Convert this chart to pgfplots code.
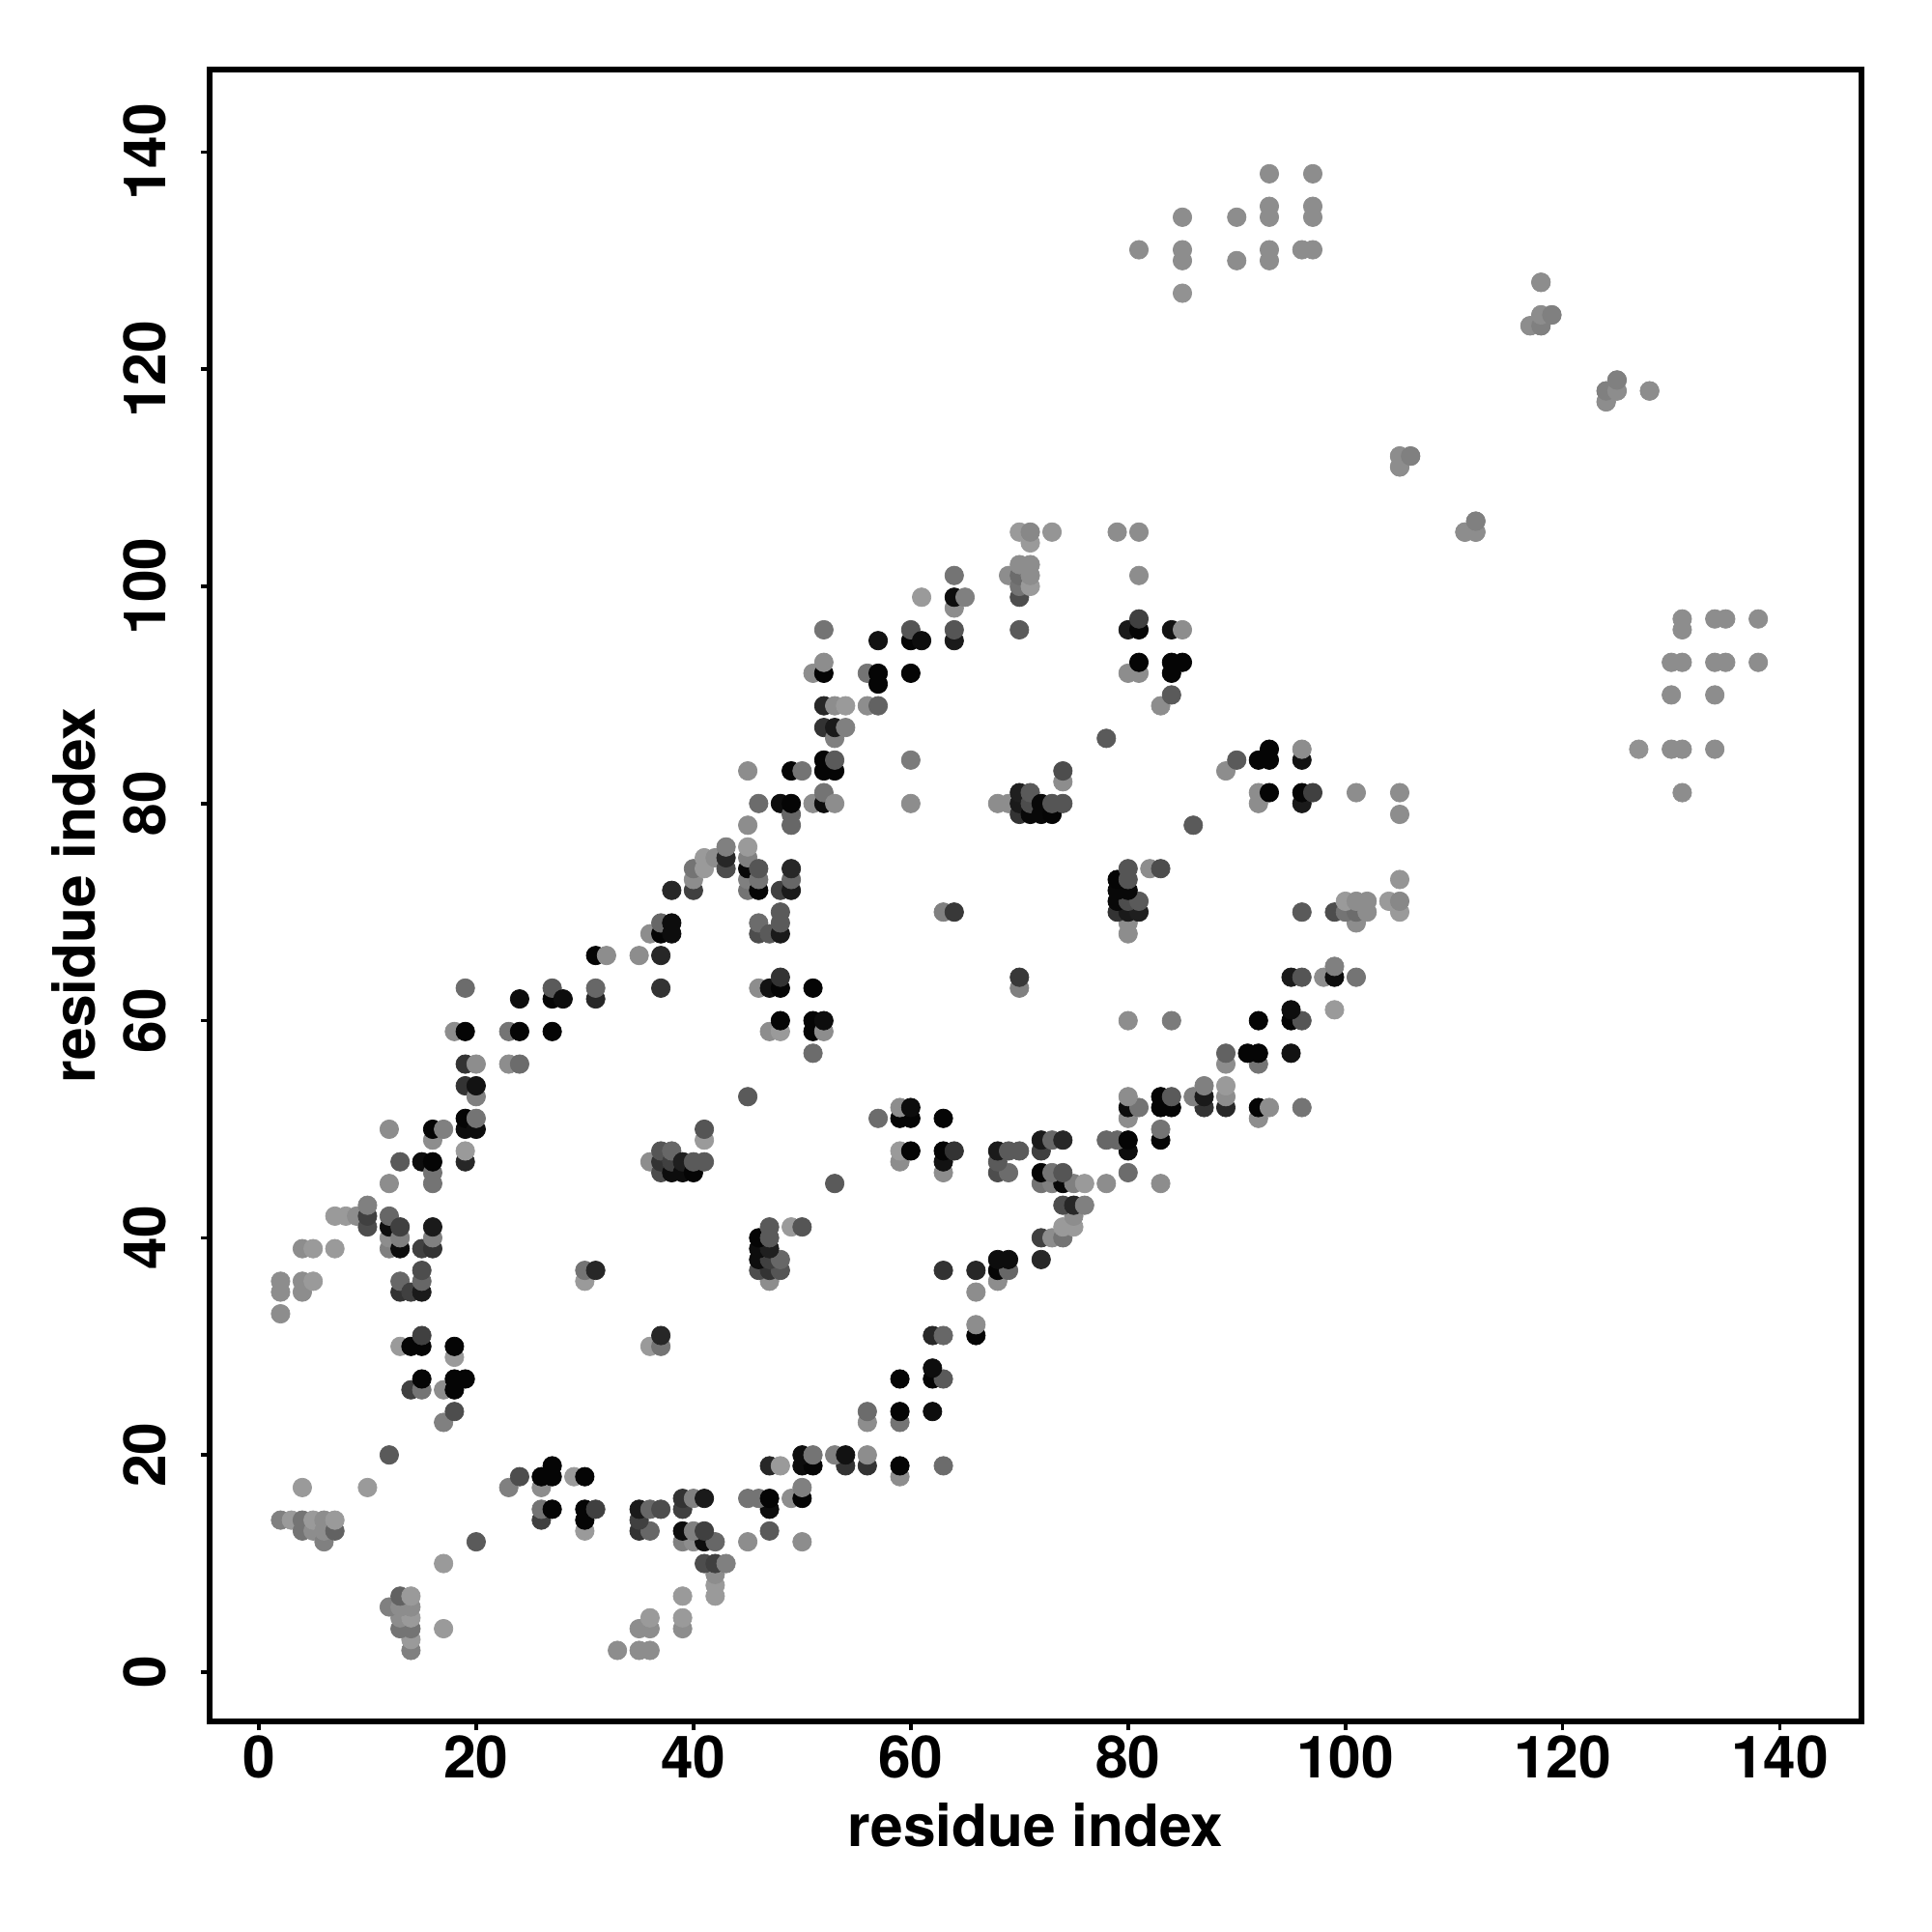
\documentclass[border=0pt]{standalone}
\usepackage{pgfplots}
\pgfplotsset{compat=1.18}
\usepackage{pgfplotstable}
\usepackage{fontspec}
\setmainfont{TeX Gyre Heros}
\pgfplotstableread{
i j g
2 14 .5
2 33 .55
2 35 .55
2 36 .55
3 14 .6
4 13 .45
4 14 .45
4 17 .6
4 35 .55
4 36 .55
4 39 .55
5 13 .55
5 14 .6
5 36 .6
5 39 .6
6 12 .5
6 13 .55
6 14 .55
7 13 .38
7 14 .6
7 39 .6
7 42 .6
8 42 .6
9 42 .55
10 17 .6
10 41 .3
10 42 .25
10 43 .5
12 20 .35
12 39 .5
12 40 .55
12 41 .05
12 42 .4
12 45 .55
12 50 .55
13 30 .6
13 35 .2
13 36 .4
13 39 .05
13 40 .5
13 41 .25
13 47 .35
14 26 .25
14 30 .02
14 35 .25
15 26 .45
15 27 .02
15 30 .02
15 31 .25
15 35 .1
15 36 .4
15 37 .3
15 39 .25
15 47 .05
16 39 .2
16 40 .5
16 41 .1
16 45 .45
16 46 .45
16 47 .02
16 49 .55
16 50 .02
17 23 .5
17 26 .55
17 50 .5
18 24 .3
18 26 .02
18 27 .02
18 29 .6
18 30 .02
18 59 .55
19 27 .02
19 47 .15
19 48 .6
19 50 .05
19 51 .02
19 54 .2
19 56 .2
19 59 .02
19 63 .42
20 50 .05
20 51 .45
20 53 .5
20 54 .07
20 56 .55
23 56 .55
23 59 .45
24 56 .42
24 59 .02
24 62 .05
27 59 .02
27 62 .02
27 63 .35
28 62 .05
30 36 .6
30 37 .45
31 37 .15
31 62 .15
31 63 .4
31 66 .02
32 66 .55
35 66 .55
36 47 .55
36 68 .55
37 46 .3
37 47 .2
37 48 .33
37 63 .2
37 66 .15
37 68 .02
37 69 .4
38 46 .05
38 47 .25
38 48 .4
38 68 .05
38 69 .05
38 72 .15
39 46 .05
39 47 .12
40 46 .02
40 47 .35
40 72 .25
40 73 .55
40 74 .45
41 47 .35
41 49 .6
41 50 .33
41 74 .6
41 75 .6
42 75 .55
43 74 .3
43 75 .15
43 76 .5
45 53 .35
45 72 .45
45 73 .5
45 74 .03
45 75 .5
45 76 .6
45 78 .55
45 83 .55
46 63 .55
46 68 .3
46 69 .42
46 72 .02
46 73 .45
46 74 .33
46 80 .42
47 59 .55
47 63 .07
47 68 .35
48 59 .6
48 60 .02
48 63 .02
48 64 .2
48 68 .1
48 69 .35
48 70 .35
48 72 .25
48 80 .05
49 72 .1
49 73 .4
49 74 .15
49 78 .4
49 79 .4
49 80 .02
49 83 .02
50 83 .45
51 57 .42
51 59 .02
51 60 .02
51 63 .02
51 80 .55
51 92 .55
52 59 .55
52 60 .05
52 80 .05
52 81 .45
52 83 .02
52 84 .02
52 87 .2
52 89 .15
52 92 .02
52 93 .55
52 96 .45
53 80 .55
53 83 .02
53 84 .35
53 86 .5
53 87 .1
53 89 .55
54 87 .5
54 89 .6
56 89 .55
56 92 .45
57 89 .38
57 91 .02
57 92 .02
57 95 .07
60 80 .55
60 84 .48
60 92 .02
60 95 .02
60 96 .33
61 95 .05
61 99 .6
63 70 .5
64 70 .22
64 95 .1
64 96 .33
64 98 .55
64 99 .05
64 101 .45
65 99 .5
68 80 .55
69 80 .55
69 101 .55
70 79 .2
70 80 .1
70 81 .12
70 96 .35
70 99 .3
70 100 .45
70 101 .42
70 102 .55
70 105 .6
71 79 .03
71 80 .3
71 81 .35
71 100 .6
71 101 .55
71 102 .55
71 104 .6
71 105 .53
72 79 .03
72 80 .03
73 79 .02
73 80 .33
73 105 .58
74 80 .33
74 82 .55
74 83 .3
78 86 .35
79 105 .55
80 92 .55
80 96 .1
81 92 .55
81 93 .02
81 96 .02
81 97 .25
81 101 .55
81 105 .55
83 89 .55
84 90 .35
84 92 .02
84 93 .02
84 96 .07
85 93 .02
85 96 .55
85 127 .57
85 130 .55
85 131 .55
85 134 .55
90 130 .55
90 134 .55
81 131 .55
93 130 .55
93 131 .55
93 134 .55
93 135 .55
93 138 .55
96 131 .55
97 131 .55
97 134 .55
97 135 .55
97 138 .55
105 111 .55
105 112 .55
106 112 .5
111 105 .55
112 105 .55
112 106 .5
117 124 .55
118 124 .5
118 125 .55
119 125 .5
118 128 .55
124 117 .55
124 118 .5
125 118 .55
125 119 .5
128 118 .55
}\contacts
\begin{document}
\begin{tikzpicture}
\path[use as bounding box] (-2.17,-2.18) rectangle (17.83,17.82);
\begin{axis}[
  scale only axis, width=17.1cm, height=17.1cm, at={(0,0)}, anchor=south west,
  xmin=-4.53, xmax=147.5, ymin=-4.54, ymax=147.6,
  xtick={0,20,...,140}, ytick={0,20,...,140},
  axis line style={line width=0.06cm}, tick style={black,line width=0.036cm},
  axis x line*=bottom, axis y line*=left,
  tick align=outside, major tick length=0.09cm,
  /pgf/number format/assume math mode=true,
  tick label style={font=\fontsize{17.2}{20}\selectfont\bfseries},
  yticklabel style={rotate=90, anchor=south, yshift=6.8pt},
  xticklabel style={yshift=2pt},
  xlabel={residue index}, ylabel={residue index},
  label style={font=\fontsize{17.2}{20}\selectfont\bfseries},
  xlabel style={at={(axis description cs:0.5,-0.042)},anchor=north},
  ylabel style={at={(axis description cs:-0.0615,0.5)},anchor=south},
  colormap={bw}{gray(0cm)=(0); gray(1cm)=(1)},
  point meta min=0, point meta max=1,
  clip=false,
]
\addplot[scatter, only marks, mark=*, mark size=2.75pt, line width=0.2pt,
  scatter src=explicit, scatter/use mapped color={draw=mapped color,fill=mapped color}]
  table[x=i,y=j,meta=g] {\contacts};
\addplot[scatter, only marks, mark=*, mark size=2.75pt, line width=0.2pt,
  scatter src=explicit, scatter/use mapped color={draw=mapped color,fill=mapped color}]
  table[x=j,y=i,meta=g] {\contacts};
\draw[line width=0.06cm] (rel axis cs:0,0) rectangle (rel axis cs:1,1);
\end{axis}
\end{tikzpicture}
\end{document}
